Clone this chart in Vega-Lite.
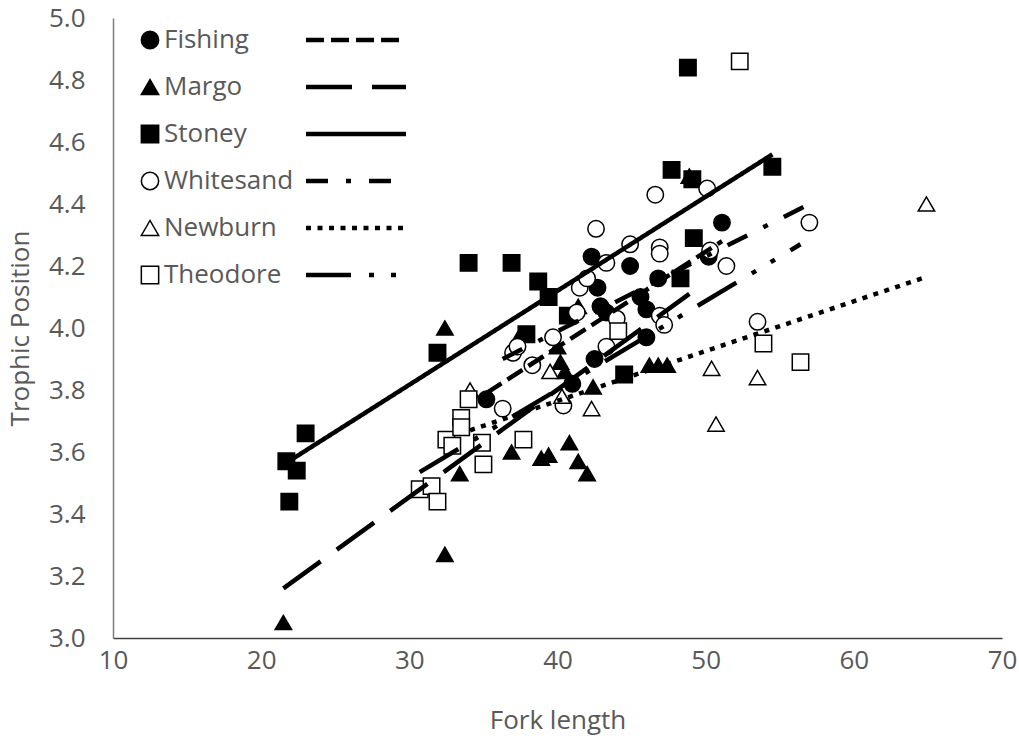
{
  "$schema": "https://vega.github.io/schema/vega-lite/v6.json",
  "width": 889,
  "height": 620,
  "autosize": {"type": "none"},
  "padding": {"left": 113, "top": 18, "right": 17, "bottom": 102},
  "background": "white",
  "config": {
    "view": {"stroke": null},
    "font": "Open Sans",
    "axis": {
      "grid": false,
      "ticks": false,
      "labelFont": "Open Sans",
      "titleFont": "Open Sans",
      "labelColor": "#595959",
      "titleColor": "#595959",
      "labelFontSize": 26,
      "titleFontSize": 26,
      "titleFontWeight": "normal",
      "labelFlush": false,
      "labelOverlap": false,
      "domainColor": "#595959",
      "domainWidth": 1.5
    }
  },
  "datasets": {
    "points": [
      {"site": "Fishing", "fl": 35.2, "tp": 3.77},
      {"site": "Fishing", "fl": 41.0, "tp": 3.82},
      {"site": "Fishing", "fl": 42.5, "tp": 3.90},
      {"site": "Fishing", "fl": 42.3, "tp": 4.23},
      {"site": "Fishing", "fl": 42.7, "tp": 4.13},
      {"site": "Fishing", "fl": 42.9, "tp": 4.07},
      {"site": "Fishing", "fl": 43.3, "tp": 4.05},
      {"site": "Fishing", "fl": 44.9, "tp": 4.20},
      {"site": "Fishing", "fl": 45.6, "tp": 4.10},
      {"site": "Fishing", "fl": 46.0, "tp": 4.06},
      {"site": "Fishing", "fl": 46.8, "tp": 4.16},
      {"site": "Fishing", "fl": 46.0, "tp": 3.97},
      {"site": "Fishing", "fl": 50.2, "tp": 4.23},
      {"site": "Fishing", "fl": 51.1, "tp": 4.34},
      {"site": "Margo", "fl": 21.5, "tp": 3.05},
      {"site": "Margo", "fl": 32.4, "tp": 3.27},
      {"site": "Margo", "fl": 32.4, "tp": 4.00},
      {"site": "Margo", "fl": 33.4, "tp": 3.53},
      {"site": "Margo", "fl": 36.9, "tp": 3.60},
      {"site": "Margo", "fl": 38.9, "tp": 3.58},
      {"site": "Margo", "fl": 39.4, "tp": 3.59},
      {"site": "Margo", "fl": 40.8, "tp": 3.63},
      {"site": "Margo", "fl": 41.4, "tp": 3.57},
      {"site": "Margo", "fl": 42.0, "tp": 3.53},
      {"site": "Margo", "fl": 42.4, "tp": 3.81},
      {"site": "Margo", "fl": 40.2, "tp": 3.89},
      {"site": "Margo", "fl": 40.5, "tp": 3.86},
      {"site": "Margo", "fl": 46.2, "tp": 3.88},
      {"site": "Margo", "fl": 46.8, "tp": 3.88},
      {"site": "Margo", "fl": 47.4, "tp": 3.88},
      {"site": "Margo", "fl": 41.4, "tp": 4.07},
      {"site": "Margo", "fl": 48.9, "tp": 4.49},
      {"site": "Margo", "fl": 37.5, "tp": 3.98},
      {"site": "Margo", "fl": 40.0, "tp": 3.94},
      {"site": "Stoney", "fl": 21.7, "tp": 3.57},
      {"site": "Stoney", "fl": 22.4, "tp": 3.54},
      {"site": "Stoney", "fl": 21.9, "tp": 3.44},
      {"site": "Stoney", "fl": 23.0, "tp": 3.66},
      {"site": "Stoney", "fl": 31.9, "tp": 3.92},
      {"site": "Stoney", "fl": 34.0, "tp": 4.21},
      {"site": "Stoney", "fl": 36.9, "tp": 4.21},
      {"site": "Stoney", "fl": 38.7, "tp": 4.15},
      {"site": "Stoney", "fl": 39.4, "tp": 4.10},
      {"site": "Stoney", "fl": 37.9, "tp": 3.98},
      {"site": "Stoney", "fl": 40.7, "tp": 4.04},
      {"site": "Stoney", "fl": 44.5, "tp": 3.85},
      {"site": "Stoney", "fl": 48.3, "tp": 4.16},
      {"site": "Stoney", "fl": 49.2, "tp": 4.29},
      {"site": "Stoney", "fl": 47.7, "tp": 4.51},
      {"site": "Stoney", "fl": 49.1, "tp": 4.48},
      {"site": "Stoney", "fl": 48.8, "tp": 4.84},
      {"site": "Stoney", "fl": 54.5, "tp": 4.52},
      {"site": "Whitesand", "fl": 36.3, "tp": 3.74},
      {"site": "Whitesand", "fl": 37.0, "tp": 3.92},
      {"site": "Whitesand", "fl": 37.3, "tp": 3.94},
      {"site": "Whitesand", "fl": 38.3, "tp": 3.88},
      {"site": "Whitesand", "fl": 39.7, "tp": 3.97},
      {"site": "Whitesand", "fl": 40.4, "tp": 3.75},
      {"site": "Whitesand", "fl": 41.3, "tp": 4.05},
      {"site": "Whitesand", "fl": 41.5, "tp": 4.13},
      {"site": "Whitesand", "fl": 42.0, "tp": 4.16},
      {"site": "Whitesand", "fl": 42.6, "tp": 4.32},
      {"site": "Whitesand", "fl": 43.3, "tp": 4.21},
      {"site": "Whitesand", "fl": 43.3, "tp": 3.94},
      {"site": "Whitesand", "fl": 44.0, "tp": 4.03},
      {"site": "Whitesand", "fl": 44.9, "tp": 4.27},
      {"site": "Whitesand", "fl": 46.6, "tp": 4.43},
      {"site": "Whitesand", "fl": 46.9, "tp": 4.26},
      {"site": "Whitesand", "fl": 46.9, "tp": 4.24},
      {"site": "Whitesand", "fl": 46.9, "tp": 4.04},
      {"site": "Whitesand", "fl": 47.2, "tp": 4.01},
      {"site": "Whitesand", "fl": 50.1, "tp": 4.45},
      {"site": "Whitesand", "fl": 50.3, "tp": 4.25},
      {"site": "Whitesand", "fl": 51.4, "tp": 4.20},
      {"site": "Whitesand", "fl": 53.5, "tp": 4.02},
      {"site": "Whitesand", "fl": 57.0, "tp": 4.34},
      {"site": "Newburn", "fl": 34.1, "tp": 3.80},
      {"site": "Newburn", "fl": 39.5, "tp": 3.86},
      {"site": "Newburn", "fl": 40.3, "tp": 3.78},
      {"site": "Newburn", "fl": 42.3, "tp": 3.74},
      {"site": "Newburn", "fl": 50.4, "tp": 3.87},
      {"site": "Newburn", "fl": 50.7, "tp": 3.69},
      {"site": "Newburn", "fl": 53.5, "tp": 3.84},
      {"site": "Newburn", "fl": 64.9, "tp": 4.40},
      {"site": "Theodore", "fl": 30.7, "tp": 3.48},
      {"site": "Theodore", "fl": 31.5, "tp": 3.49},
      {"site": "Theodore", "fl": 31.9, "tp": 3.44},
      {"site": "Theodore", "fl": 32.5, "tp": 3.64},
      {"site": "Theodore", "fl": 32.9, "tp": 3.62},
      {"site": "Theodore", "fl": 33.5, "tp": 3.71},
      {"site": "Theodore", "fl": 33.5, "tp": 3.68},
      {"site": "Theodore", "fl": 34.0, "tp": 3.77},
      {"site": "Theodore", "fl": 34.9, "tp": 3.63},
      {"site": "Theodore", "fl": 35.0, "tp": 3.56},
      {"site": "Theodore", "fl": 37.7, "tp": 3.64},
      {"site": "Theodore", "fl": 44.1, "tp": 3.99},
      {"site": "Theodore", "fl": 53.9, "tp": 3.95},
      {"site": "Theodore", "fl": 56.4, "tp": 3.89},
      {"site": "Theodore", "fl": 52.3, "tp": 4.86}
    ],
    "trends": [
      {"trend": "Fishing", "fl": 35.2, "tp": 3.79},
      {"trend": "Fishing", "fl": 51.1, "tp": 4.28},
      {"trend": "Margo", "fl": 21.5, "tp": 3.16},
      {"trend": "Margo", "fl": 48.9, "tp": 4.11},
      {"trend": "Stoney", "fl": 21.7, "tp": 3.565},
      {"trend": "Stoney", "fl": 54.5, "tp": 4.56},
      {"trend": "Whitesand", "fl": 36.3, "tp": 3.90},
      {"trend": "Whitesand", "fl": 57.0, "tp": 4.40},
      {"trend": "Newburn", "fl": 34.1, "tp": 3.67},
      {"trend": "Newburn", "fl": 64.9, "tp": 4.165},
      {"trend": "Theodore", "fl": 30.7, "tp": 3.535},
      {"trend": "Theodore", "fl": 56.4, "tp": 4.27}
    ]
  },
  "encoding": {
    "x": {
      "field": "fl", "type": "quantitative",
      "scale": {"domain": [10, 70], "nice": false, "zero": false},
      "axis": {"title": "Fork length", "values": [10, 20, 30, 40, 50, 60, 70], "labelPadding": 9, "titlePadding": 34, "domainColor": "#404040"}
    },
    "y": {
      "field": "tp", "type": "quantitative",
      "scale": {"domain": [3, 5], "nice": false, "zero": false},
      "axis": {"title": "Trophic Position", "values": [3.0, 3.2, 3.4, 3.6, 3.8, 4.0, 4.2, 4.4, 4.6, 4.8, 5.0], "format": ".1f", "labelPadding": 28, "titlePadding": 15, "domainColor": "#7f7f7f"}
    }
  },
  "layer": [
    {
      "data": {"name": "points"},
      "mark": {"type": "point", "filled": true, "strokeWidth": 1.5, "size": 270, "opacity": 1},
      "encoding": {
        "shape": {
          "field": "site", "type": "nominal",
          "scale": {"domain": ["Fishing", "Margo", "Stoney", "Whitesand", "Newburn", "Theodore"], "range": ["circle", "triangle-up", "square", "circle", "triangle-up", "square"]},
          "legend": {"orient": "none", "legendX": 24, "legendY": 9, "title": null, "padding": 0, "labelFontSize": 26, "labelFont": "Open Sans", "labelColor": "#595959", "symbolSize": 300, "symbolStrokeWidth": 1.5, "rowPadding": 21, "labelOffset": 1}
        },
        "fill": {
          "field": "site", "type": "nominal",
          "scale": {"domain": ["Fishing", "Margo", "Stoney", "Whitesand", "Newburn", "Theodore"], "range": ["black", "black", "black", "white", "white", "white"]},
          "legend": {"orient": "none", "legendX": 24, "legendY": 9, "title": null, "padding": 0, "labelFontSize": 26, "labelFont": "Open Sans", "labelColor": "#595959", "symbolSize": 300, "symbolStrokeWidth": 1.5, "rowPadding": 21, "labelOffset": 1}
        },
        "stroke": {
          "field": "site", "type": "nominal",
          "scale": {"domain": ["Fishing", "Margo", "Stoney", "Whitesand", "Newburn", "Theodore"], "range": ["black", "black", "black", "black", "black", "black"]},
          "legend": {"orient": "none", "legendX": 24, "legendY": 9, "title": null, "padding": 0, "labelFontSize": 26, "labelFont": "Open Sans", "labelColor": "#595959", "symbolSize": 300, "symbolStrokeWidth": 1.5, "rowPadding": 21, "labelOffset": 1}
        }
      }
    },
    {
      "data": {"name": "trends"},
      "mark": {"type": "line", "color": "black", "strokeWidth": 4.5},
      "encoding": {
        "detail": {"field": "trend", "type": "nominal"},
        "strokeDash": {
          "field": "trend", "type": "nominal",
          "sort": ["Fishing", "Margo", "Stoney", "Whitesand", "Newburn", "Theodore"],
          "scale": {"range": [[18, 7], [46, 20], [1, 0], [22, 18, 5, 18], [5, 6.5], [45, 18, 5, 17, 5, 18]]},
          "legend": {"orient": "none", "legendX": 190, "legendY": 9, "title": null, "padding": 0, "labelFontSize": 26, "labelOpacity": 0, "symbolType": "M-1,0H9", "symbolSize": 400, "symbolStrokeColor": "black", "symbolStrokeWidth": 4.5, "symbolFillColor": "transparent", "rowPadding": 21}
        }
      }
    }
  ]
}
